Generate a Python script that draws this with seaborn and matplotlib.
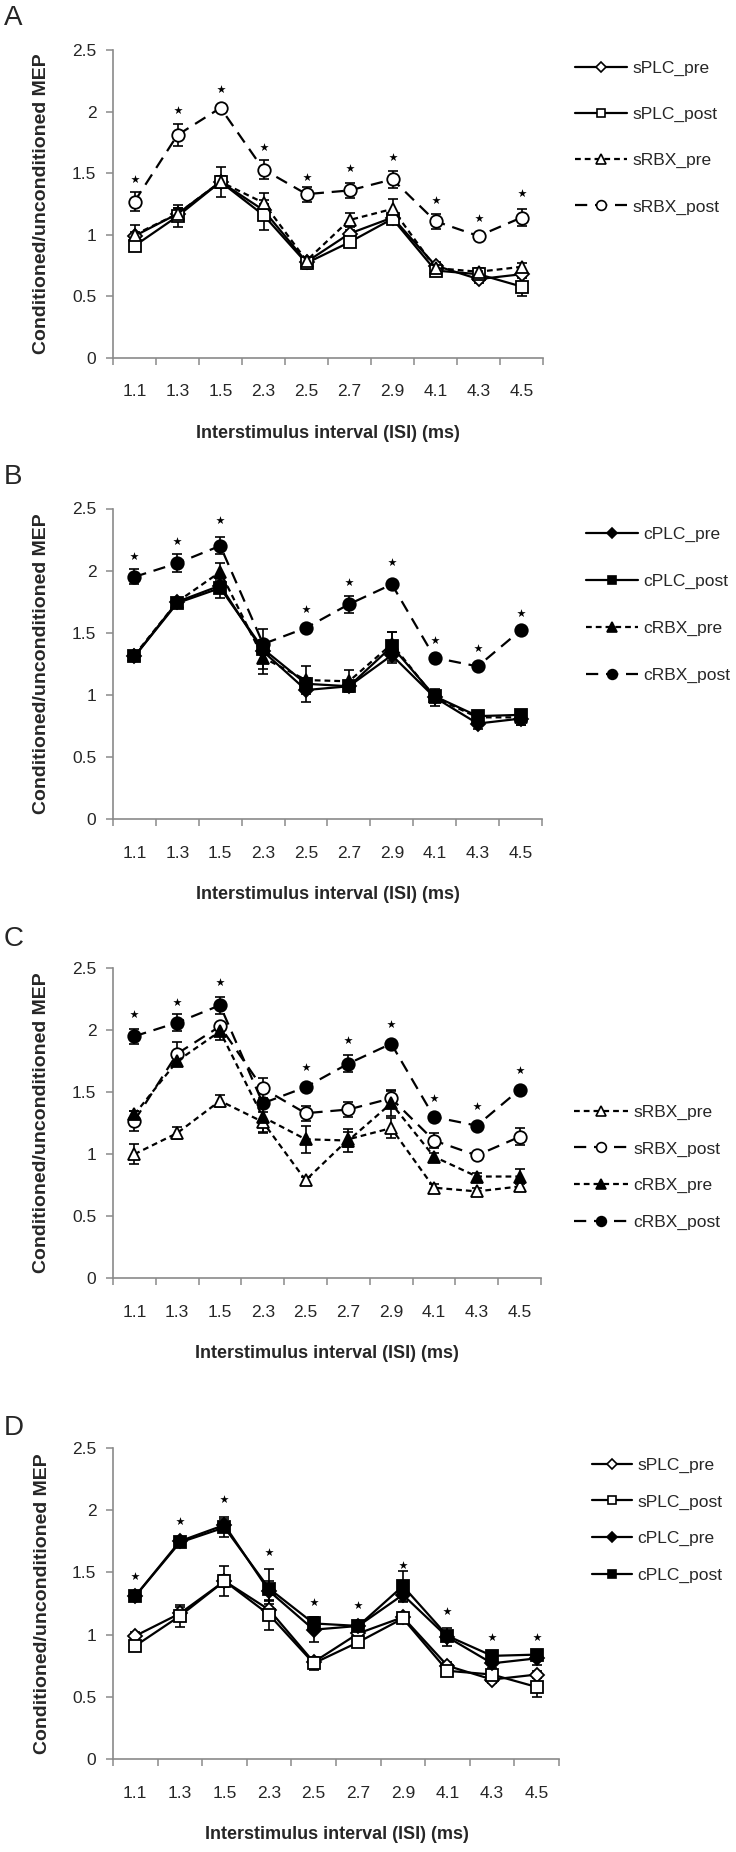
import numpy as np
import seaborn as sns
import matplotlib.pyplot as plt
from matplotlib.lines import Line2D

# ------------------------------
# DATA
# ------------------------------

isi_labels = ["1.1", "1.3", "1.5", "2.3", "2.5", "2.7", "2.9", "4.1", "4.3", "4.5"]
ytick_values = [0, 0.5, 1, 1.5, 2, 2.5]
ytick_labels = ["0", "0.5", "1", "1.5", "2", "2.5"]

sPLC_pre = [0.99, 1.17, 1.43, 1.20, 0.78, 1.01, 1.14, 0.75, 0.64, 0.68]
sPLC_pre_sem = [0.03, 0.05, 0.05, 0.05, 0.03, 0.03, 0.03, 0.03, 0.03, 0.03]
sPLC_post = [0.91, 1.15, 1.43, 1.16, 0.77, 0.94, 1.13, 0.71, 0.68, 0.58]
sPLC_post_sem = [0.03, 0.09, 0.12, 0.12, 0.05, 0.03, 0.03, 0.03, 0.03, 0.08]
sRBX_pre = [1.00, 1.17, 1.43, 1.26, 0.79, 1.12, 1.21, 0.73, 0.70, 0.74]
sRBX_pre_sem = [0.08, 0.05, 0.05, 0.08, 0.03, 0.06, 0.08, 0.03, 0.03, 0.03]
sRBX_post = [1.27, 1.81, 2.03, 1.53, 1.33, 1.36, 1.45, 1.11, 0.99, 1.14]
sRBX_post_sem = [0.08, 0.09, 0.01, 0.08, 0.06, 0.06, 0.07, 0.06, 0.02, 0.07]

cPLC_pre = [1.31, 1.75, 1.88, 1.35, 1.04, 1.07, 1.32, 0.98, 0.77, 0.81]
cPLC_pre_sem = [0.02, 0.03, 0.05, 0.08, 0.10, 0.03, 0.06, 0.07, 0.04, 0.05]
cPLC_post = [1.31, 1.74, 1.86, 1.37, 1.09, 1.07, 1.39, 0.99, 0.83, 0.84]
cPLC_post_sem = [0.02, 0.03, 0.08, 0.16, 0.05, 0.03, 0.12, 0.03, 0.03, 0.03]
cRBX_pre = [1.32, 1.75, 1.99, 1.30, 1.12, 1.11, 1.41, 0.98, 0.82, 0.82]
cRBX_pre_sem = [0.03, 0.03, 0.07, 0.13, 0.11, 0.09, 0.10, 0.03, 0.03, 0.06]
cRBX_post = [1.95, 2.06, 2.20, 1.41, 1.54, 1.73, 1.89, 1.30, 1.23, 1.52]
cRBX_post_sem = [0.06, 0.07, 0.07, 0.03, 0.02, 0.07, 0.02, 0.02, 0.02, 0.02]

# significance asterisks (height on the y axis), nan = none
stars_A = [1.45, 2.01, 2.18, 1.71, 1.47, 1.54, 1.63, 1.28, 1.14, 1.34]
stars_B = [2.12, 2.24, 2.41, np.nan, 1.69, 1.91, 2.07, 1.44, 1.38, 1.66]
stars_C = [2.13, 2.23, 2.39, np.nan, 1.70, 1.92, 2.05, 1.45, 1.39, 1.68]
stars_D = [1.47, 1.91, 2.09, 1.66, 1.26, 1.24, 1.56, 1.19, 0.98, 0.98]

# ------------------------------
# STYLES
# ------------------------------

SOLID = "-"
SHORT = (0, (2.6, 1.8))
LONG = (0, (5.5, 3.5))

series = {
    "sPLC_pre": (sPLC_pre, sPLC_pre_sem, "D", 7, "white", SOLID),
    "sPLC_post": (sPLC_post, sPLC_post_sem, "s", 8, "white", SOLID),
    "sRBX_pre": (sRBX_pre, sRBX_pre_sem, "^", 9, "white", SHORT),
    "sRBX_post": (sRBX_post, sRBX_post_sem, "o", 9, "white", LONG),
    "cPLC_pre": (cPLC_pre, cPLC_pre_sem, "D", 7, "black", SOLID),
    "cPLC_post": (cPLC_post, cPLC_post_sem, "s", 8, "black", SOLID),
    "cRBX_pre": (cRBX_pre, cRBX_pre_sem, "^", 9, "black", SHORT),
    "cRBX_post": (cRBX_post, cRBX_post_sem, "o", 9, "black", LONG),
}

# panel: (label, series names, stars, axes px box, legend px settings, label y)
panels = [
    ("A", ["sPLC_pre", "sPLC_post", "sRBX_pre", "sRBX_post"], stars_A,
     (113, 50, 543, 358), (575, 68, 46.5, 52), 18),
    ("B", ["cPLC_pre", "cPLC_post", "cRBX_pre", "cRBX_post"], stars_B,
     (113, 508.5, 542, 819.3), (586, 534, 47.3, 52), 477),
    ("C", ["sRBX_pre", "sRBX_post", "cRBX_pre", "cRBX_post"], stars_C,
     (113, 968, 541, 1278.3), (574, 1112, 37, 54), 939),
    ("D", ["sPLC_pre", "sPLC_post", "cPLC_pre", "cPLC_post"], stars_D,
     (113, 1447.7, 559, 1759.3), (592, 1465, 37, 40), 1428),
]

W, H = 736, 1852
GRAY = "#8a8a8a"
LEG_FS = 12.5

sns.set_style("ticks")
plt.rcParams["font.family"] = ["Liberation Sans", "DejaVu Sans"]

fig = plt.figure(figsize=(W / 100, H / 100), dpi=100)
x = np.arange(len(isi_labels))

for label, names, stars, box, leg, label_y in panels:
    left, top, right, bottom = box
    ax = fig.add_axes([left / W, 1 - bottom / H, (right - left) / W, (bottom - top) / H])

    for name in names:
        vals, sem, marker, ms, fc, ls = series[name]
        ax.errorbar(x, vals, yerr=sem, fmt="none", ecolor="black",
                    elinewidth=1.2, capsize=3.5, capthick=1.2, zorder=1.5)
        sns.lineplot(x=x, y=vals, ax=ax, color="black", linewidth=1.6,
                     linestyle=ls, marker=marker, markersize=ms,
                     markerfacecolor=fc, markeredgecolor="black",
                     markeredgewidth=1.3, errorbar=None, zorder=2)

    sns.scatterplot(x=x, y=stars, ax=ax, marker="*", s=40, color="black",
                    linewidth=0, zorder=3)

    ax.set_xlim(-0.5, 9.5)
    ax.set_ylim(0, 2.5)
    ax.set_xticks(np.arange(-0.5, 10, 1))
    ax.set_xticks(x, minor=True)
    ax.set_xticklabels(isi_labels, minor=True)
    ax.tick_params(axis="x", which="major", labelbottom=False, length=5,
                   width=1.1, color=GRAY, direction="out")
    ax.tick_params(axis="x", which="minor", length=0, pad=19, labelsize=12.5)
    ax.set_yticks(ytick_values)
    ax.set_yticklabels(ytick_labels)
    ax.tick_params(axis="y", length=5, width=1.1, color=GRAY, direction="out",
                   pad=7, labelsize=12.5)
    sns.despine(ax=ax)
    for sp in ["left", "bottom"]:
        ax.spines[sp].set_color(GRAY)
        ax.spines[sp].set_linewidth(1.2)

    ax.set_xlabel("Interstimulus interval (ISI) (ms)", fontweight="bold",
                  fontsize=13)
    ax.xaxis.label.set_va("center")
    ax.xaxis.set_label_coords(0.501, -75 / (bottom - top))
    ax.set_ylabel("Conditioned/unconditioned MEP", fontweight="bold",
                  fontsize=14)
    ax.yaxis.label.set_va("center")
    ax.yaxis.set_label_coords(-(left - 42) / (right - left), 0.5)

    # legend
    lx, ly, lspace, hlen = leg
    handles = []
    for name in names:
        vals, sem, marker, ms, fc, ls = series[name]
        handles.append(Line2D([], [], color="black", linewidth=1.6, linestyle=ls,
                              marker=marker, markersize=ms * 0.78,
                              markerfacecolor=fc, markeredgecolor="black",
                              markeredgewidth=1.2))
    fs_px = LEG_FS * 100 / 72
    ax.legend(handles, names, loc="upper left",
              bbox_to_anchor=(lx / W, 1 - (ly - 7.5) / H),
              bbox_transform=fig.transFigure, frameon=False, fontsize=LEG_FS,
              handlelength=hlen / fs_px, handletextpad=0.3,
              labelspacing=(lspace - 15.5) / fs_px, borderpad=0, borderaxespad=0)

    fig.text(4 / W, 1 - label_y / H, label, fontsize=20, ha="left", va="center")

fig.savefig("out.png", dpi=100)
